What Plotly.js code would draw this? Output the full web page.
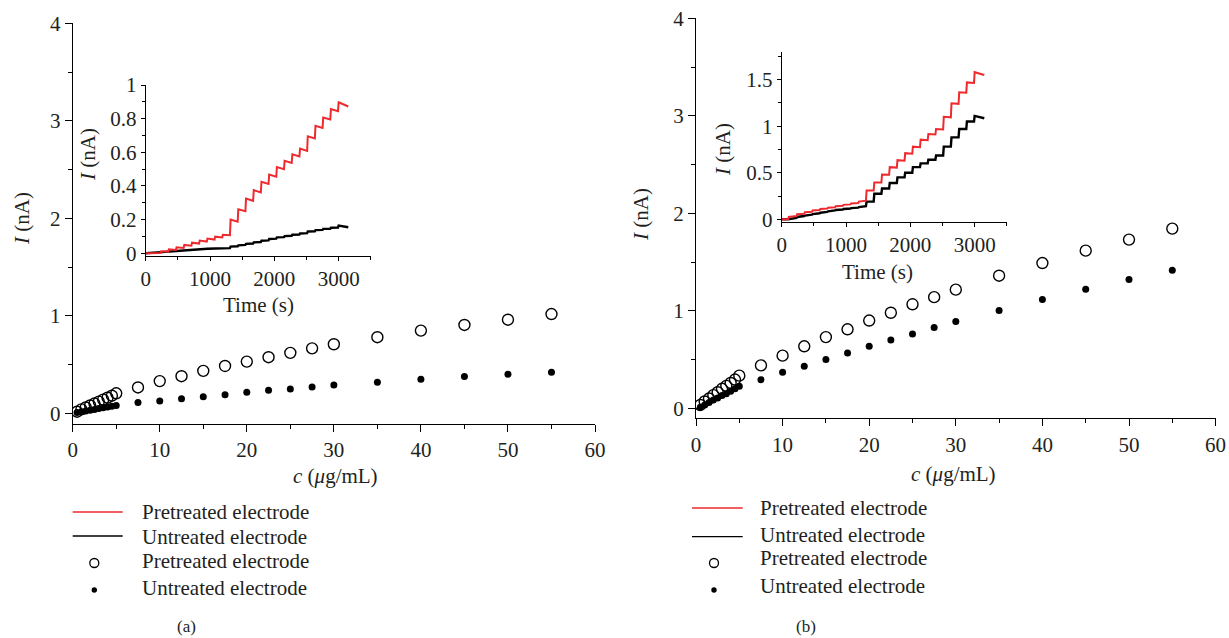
<!DOCTYPE html>
<html><head><meta charset="utf-8">
<script src="https://cdn.plot.ly/plotly-3.0.1.min.js"></script>
<style>html,body{margin:0;padding:0;background:#fff}</style>
</head><body><div id="chart" style="width:1229px;height:638px"></div>
<script>
// ---- concentration series (c, ug/mL) ----
const concentration = [0.5,1,1.5,2,2.5,3,3.5,4,4.5,5,7.5,10,12.5,15,17.5,20,22.5,25,27.5,30,35,40,45,50,55];
const aPretreatedI = [0.016,0.04,0.06,0.08,0.1,0.12,0.14,0.16,0.18,0.205,0.265,0.33,0.38,0.435,0.485,0.53,0.575,0.62,0.666,0.708,0.78,0.848,0.906,0.96,1.018];
const aUntreatedI  = [0.008,0.016,0.024,0.032,0.04,0.048,0.056,0.064,0.072,0.08,0.11,0.125,0.15,0.17,0.19,0.215,0.235,0.25,0.27,0.29,0.318,0.349,0.376,0.4,0.42];
const bPretreatedI = [0.034,0.07,0.1,0.135,0.165,0.2,0.23,0.26,0.295,0.335,0.44,0.54,0.636,0.73,0.81,0.9,0.98,1.067,1.14,1.217,1.36,1.49,1.617,1.73,1.843];
const bUntreatedI  = [0.01,0.035,0.06,0.085,0.105,0.13,0.15,0.175,0.2,0.226,0.294,0.37,0.43,0.5,0.568,0.636,0.70,0.763,0.828,0.889,1.002,1.115,1.22,1.32,1.415];

// ---- inset (a): current vs time ----
const aRedTime = [0,230,240,350,360,470,480,590,600,710,720,830,840,950,960,1070,1080,1190,1200,1310,1320,1430,1440,1550,1560,1670,1680,1790,1800,1910,1920,2030,2040,2150,2160,2270,2280,2390,2400,2510,2520,2630,2640,2750,2760,2870,2880,2990,3000,3150];
const aRedI    = [0,0.002,0.012,0.01,0.024,0.02,0.036,0.032,0.05,0.045,0.063,0.058,0.076,0.07,0.088,0.082,0.099,0.094,0.11,0.108,0.2,0.188,0.262,0.25,0.325,0.312,0.375,0.362,0.425,0.412,0.468,0.455,0.512,0.5,0.55,0.537,0.588,0.575,0.622,0.608,0.695,0.682,0.757,0.745,0.807,0.795,0.857,0.845,0.897,0.872];
const aBlackTime = [0,120,240,360,480,600,720,840,960,1080,1200,1310,1320,1430,1440,1550,1560,1670,1680,1790,1800,1910,1920,2030,2040,2150,2160,2270,2280,2390,2400,2510,2520,2630,2640,2750,2760,2870,2880,2990,3000,3150];
const aBlackI    = [0,0.002,0.006,0.01,0.014,0.018,0.021,0.024,0.027,0.029,0.03,0.031,0.04,0.042,0.047,0.05,0.056,0.058,0.065,0.067,0.075,0.077,0.085,0.087,0.095,0.096,0.102,0.104,0.11,0.112,0.118,0.12,0.13,0.131,0.138,0.139,0.145,0.146,0.152,0.153,0.165,0.155];

// ---- inset (b): current vs time ----
const bRedTime = [0,100,110,230,240,350,360,470,480,590,600,710,720,830,840,950,960,1070,1080,1190,1200,1310,1320,1430,1440,1550,1560,1670,1680,1790,1800,1910,1920,2030,2040,2150,2160,2270,2280,2390,2400,2510,2520,2630,2640,2750,2760,2870,2880,2990,3000,3150];
const bRedI    = [0,0,0.025,0.035,0.055,0.06,0.075,0.08,0.095,0.1,0.11,0.115,0.125,0.13,0.14,0.145,0.155,0.16,0.17,0.175,0.19,0.2,0.31,0.31,0.395,0.395,0.48,0.478,0.56,0.555,0.635,0.63,0.71,0.705,0.78,0.775,0.855,0.85,0.915,0.91,0.97,0.965,1.1,1.095,1.245,1.24,1.365,1.36,1.47,1.465,1.58,1.55];
const bBlackTime = [0,100,230,240,350,360,470,480,590,600,710,720,830,840,950,960,1070,1080,1190,1200,1310,1320,1430,1440,1550,1560,1670,1680,1790,1800,1910,1920,2030,2040,2150,2160,2270,2280,2390,2400,2510,2520,2630,2640,2750,2760,2870,2880,2990,3000,3150];
const bBlackI    = [0,0,0.015,0.025,0.035,0.04,0.05,0.055,0.065,0.07,0.08,0.085,0.095,0.1,0.105,0.11,0.115,0.12,0.125,0.13,0.14,0.19,0.19,0.275,0.275,0.33,0.33,0.39,0.39,0.45,0.45,0.5,0.5,0.56,0.56,0.6,0.6,0.64,0.64,0.685,0.685,0.78,0.78,0.88,0.88,0.97,0.97,1.05,1.05,1.11,1.085];

const seriesNames = ['Pretreated electrode','Untreated electrode'];
const panelLabels = ['(a)','(b)'];

const W = 1229, H = 638;
const px = v => v / W;
const py = v => 1 - v / H;
const FONT = 'Liberation Serif, Times New Roman, serif';
const INK = '#231f20';
const RED = '#ee2a2e';
const TICK_SIZE = 21, TEXT_SIZE = 21;

function openTrace(x, y, xa, ya) {
  return {x, y, xaxis: xa, yaxis: ya, type: 'scatter', mode: 'markers', name: seriesNames[0], showlegend: false,
    marker: {symbol: 'circle-open', size: 11, color: '#000', line: {width: 1.4, color: '#000'}}};
}
function dotTrace(x, y, xa, ya) {
  return {x, y, xaxis: xa, yaxis: ya, type: 'scatter', mode: 'markers', name: seriesNames[1], showlegend: false,
    marker: {symbol: 'circle', size: 7, color: '#000'}};
}
function lineTrace(x, y, xa, ya, color, name, w) {
  return {x, y, xaxis: xa, yaxis: ya, type: 'scatter', mode: 'lines', name, showlegend: false,
    line: {color, width: w}};
}

const data = [
  openTrace(concentration, aPretreatedI, 'x', 'y'),
  dotTrace(concentration, aUntreatedI, 'x', 'y'),
  lineTrace(aBlackTime, aBlackI, 'x2', 'y2', '#000', seriesNames[1], 2.4),
  lineTrace(aRedTime, aRedI, 'x2', 'y2', RED, seriesNames[0], 2),
  openTrace(concentration, bPretreatedI, 'x3', 'y3'),
  dotTrace(concentration, bUntreatedI, 'x3', 'y3'),
  lineTrace(bBlackTime, bBlackI, 'x4', 'y4', '#000', seriesNames[1], 2.4),
  lineTrace(bRedTime, bRedI, 'x4', 'y4', RED, seriesNames[0], 2)
];

function axis(o) {
  return Object.assign({
    showgrid: false, zeroline: false, showline: true, linecolor: '#000', linewidth: 1,
    ticks: 'outside', ticklen: 7, tickwidth: 1, tickcolor: '#000',
    tickfont: {family: FONT, size: TICK_SIZE, color: INK}, fixedrange: true
  }, o);
}

const layout = {
  width: W, height: H,
  margin: {l: 0, r: 0, t: 0, b: 0},
  paper_bgcolor: '#fff', plot_bgcolor: 'rgba(0,0,0,0)',
  font: {family: FONT, color: INK},
  showlegend: false,
  xaxis:  axis({domain: [px(72.7), px(595)], range: [0, 60], dtick: 10, tick0: 0, anchor: 'y',
                minor: {dtick: 5, ticks: 'outside', ticklen: 4, tickcolor: '#000'}}),
  yaxis:  axis({domain: [py(424), py(23.3)], range: [-0.11, 4], dtick: 1, tick0: 0, anchor: 'x',
                minor: {dtick: 0.5, tick0: 0, ticks: 'outside', ticklen: 4, tickcolor: '#000'}}),
  xaxis2: axis({domain: [px(145.7), px(370.8)], range: [0, 3500], dtick: 1000, tick0: 0, anchor: 'y2', ticklen: 4,
                minor: {dtick: 500, ticks: 'outside', ticklen: 3, tickcolor: '#000'}}),
  yaxis2: axis({domain: [py(256), py(85)], range: [-0.016, 1], dtick: 0.2, tick0: 0, anchor: 'x2', ticklen: 4,
                minor: {dtick: 0.1, tick0: 0, ticks: 'outside', ticklen: 2.5, tickcolor: '#000'}}),
  xaxis3: axis({domain: [px(696), px(1215.6)], range: [0, 60], dtick: 10, tick0: 0, anchor: 'y3',
                minor: {dtick: 5, ticks: 'outside', ticklen: 4, tickcolor: '#000'}}),
  yaxis3: axis({domain: [py(418.3), py(18.3)], range: [-0.1026, 4], dtick: 1, tick0: 0, anchor: 'x3',
                minor: {dtick: 0.5, tick0: 0, ticks: 'outside', ticklen: 4, tickcolor: '#000'}}),
  xaxis4: axis({domain: [px(781.7), px(1006.8)], range: [0, 3500], dtick: 1000, tick0: 0, anchor: 'y4', ticklen: 4,
                minor: {dtick: 500, ticks: 'outside', ticklen: 3, tickcolor: '#000'}}),
  yaxis4: axis({domain: [py(221.7), py(51.7)], range: [-0.026, 1.8], dtick: 0.5, tick0: 0, anchor: 'x4', ticklen: 4,
                minor: {dtick: 0.25, tick0: 0, ticks: 'outside', ticklen: 2.5, tickcolor: '#000'}}),
  annotations: [],
  shapes: []
};

function note(text, x, y, opts) {
  layout.annotations.push(Object.assign({
    text, xref: 'paper', yref: 'paper', x: px(x), y: py(y), xanchor: 'center', yanchor: 'middle',
    showarrow: false, font: {family: FONT, size: TEXT_SIZE, color: INK}
  }, opts || {}));
}
const yTitle = '<i>I</i> (nA)';
const cTitle = '<i>c</i> (<i>μ</i>g/mL)';
const tTitle = 'Time (s)';
// axis titles
note(yTitle, 22, 219, {textangle: -90});
note(cTitle, 335, 476);
note(yTitle, 88, 155, {textangle: -90});
note(tTitle, 258, 305);
note(yTitle, 641, 214, {textangle: -90});
note(cTitle, 953, 474);
note(yTitle, 723, 150, {textangle: -90});
note(tTitle, 877, 272);
// panel labels
note(panelLabels[0], 186, 626, {font: {family: FONT, size: 17, color: INK}});
note(panelLabels[1], 806, 626, {font: {family: FONT, size: 17, color: INK}});

// legends
function legend(lineX0, lineX1, symX, textX, rowsSym, rowsText) {
  layout.shapes.push({type: 'line', xref: 'paper', yref: 'paper', x0: px(lineX0), x1: px(lineX1), y0: py(rowsSym[0]), y1: py(rowsSym[0]), line: {color: RED, width: 1.3}});
  layout.shapes.push({type: 'line', xref: 'paper', yref: 'paper', x0: px(lineX0), x1: px(lineX1), y0: py(rowsSym[1]), y1: py(rowsSym[1]), line: {color: '#000', width: 1.3}});
  const r1 = 4.5, r2 = 2.7;
  layout.shapes.push({type: 'circle', xref: 'paper', yref: 'paper', x0: px(symX - r1), x1: px(symX + r1), y0: py(rowsSym[2] + r1), y1: py(rowsSym[2] - r1), line: {color: '#000', width: 1.3}, fillcolor: 'rgba(0,0,0,0)'});
  layout.shapes.push({type: 'circle', xref: 'paper', yref: 'paper', x0: px(symX - r2), x1: px(symX + r2), y0: py(rowsSym[3] + r2), y1: py(rowsSym[3] - r2), line: {color: '#000', width: 0}, fillcolor: '#000'});
  const names = [seriesNames[0], seriesNames[1], seriesNames[0], seriesNames[1]];
  names.forEach((n, i) => note(n, textX, rowsText[i], {xanchor: 'left'}));
}
legend(72.7, 122.7, 94.3, 140, [512, 536, 563, 590], [512, 537, 561, 588]);
legend(692, 742.7, 714, 758, [508, 536.7, 563, 590], [508, 535, 558, 586]);

Plotly.newPlot('chart', data, layout, {displayModeBar: false, staticPlot: true});
</script>
</body></html>
